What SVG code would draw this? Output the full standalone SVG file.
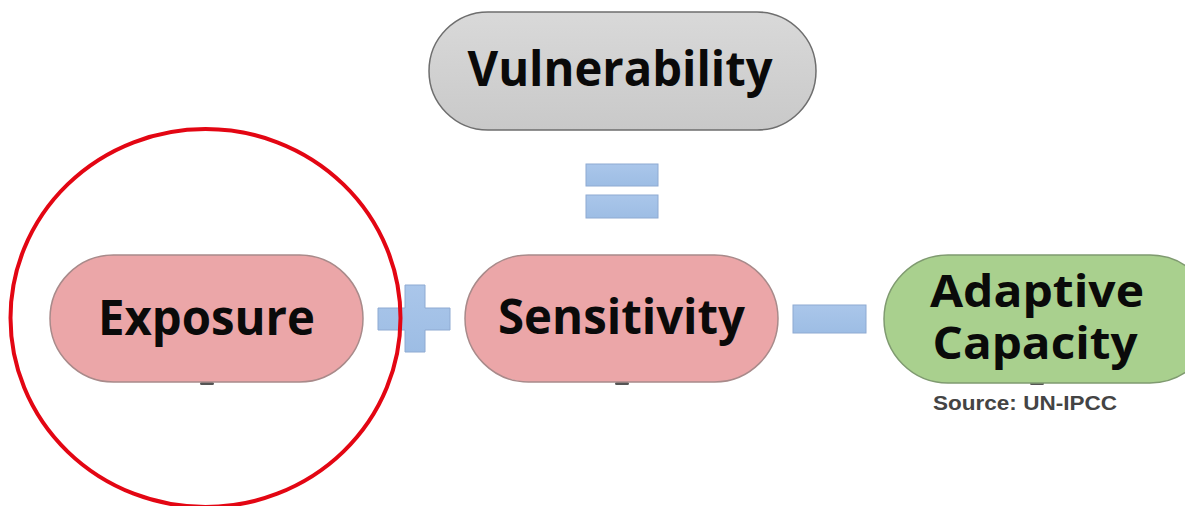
<svg xmlns="http://www.w3.org/2000/svg" width="1185" height="506" viewBox="0 0 1185 506">
<defs>
<linearGradient id="gBlue" x1="0" y1="0" x2="0" y2="1">
<stop offset="0" stop-color="#aac6ea"/><stop offset="1" stop-color="#9dbde4"/>
</linearGradient>
<linearGradient id="gGray" x1="0" y1="0" x2="0" y2="1">
<stop offset="0" stop-color="#d9d9d9"/><stop offset="1" stop-color="#c9c9c9"/>
</linearGradient>
<style>
.lbl{font-family:"Open Sans","Noto Sans","DejaVu Sans",sans-serif;font-weight:700;font-size:48px;fill:#0a0a0a;text-anchor:middle}
.lbl2{font-size:44px}
.pink{fill:#eba6a8;stroke:#a88a8a;stroke-width:1.5}
.gray{fill:url(#gGray);stroke:#6e6e6e;stroke-width:1.5}
.green{fill:#a9d08e;stroke:#7f9a70;stroke-width:1.5}
.op{fill:url(#gBlue);stroke:#8eaad2;stroke-width:1}
.stub{fill:#555}
.src{font-family:"Liberation Sans",Arial,sans-serif;font-weight:700;font-size:20px;fill:#444}
</style>
</defs>
<rect width="1185" height="506" fill="#ffffff"/>
<g id="connectors">
<rect class="stub" x="200" y="382" width="14" height="3" rx="1.5"/>
<rect class="stub" x="615" y="382" width="14" height="3" rx="1.5"/>
<rect class="stub" x="1030" y="382" width="14" height="3" rx="1.5"/>
</g>
<g id="vulnerability">
<rect class="gray" x="429" y="12" width="387" height="118" rx="59"/>
<text class="lbl" x="620" y="86" textLength="305" lengthAdjust="spacingAndGlyphs">Vulnerability</text>
</g>
<g id="equals">
<rect class="op" x="586" y="164" width="72" height="22"/>
<rect class="op" x="586" y="195" width="72" height="23"/>
</g>
<g id="exposure">
<rect class="pink" x="50" y="255" width="313" height="127" rx="63.5"/>
<text class="lbl" x="206.5" y="335" textLength="217" lengthAdjust="spacingAndGlyphs">Exposure</text>
</g>
<g id="plus">
<path class="op" d="M405 285 H425 V308 H450 V330 H425 V352 H405 V330 H378 V308 H405 Z"/>
</g>
<g id="sensitivity">
<rect class="pink" x="465" y="255" width="313" height="127" rx="63.5"/>
<text class="lbl" x="621.5" y="334" textLength="247" lengthAdjust="spacingAndGlyphs">Sensitivity</text>
</g>
<g id="minus">
<rect class="op" x="793" y="305" width="73" height="28"/>
</g>
<g id="adaptive-capacity">
<rect class="green" x="884" y="255" width="330" height="128" rx="64"/>
<text class="lbl lbl2" x="1037" y="307" textLength="214" lengthAdjust="spacingAndGlyphs">Adaptive</text>
<text class="lbl lbl2" x="1035" y="359" textLength="205" lengthAdjust="spacingAndGlyphs">Capacity</text>
</g>
<g id="source">
<text class="src" x="933" y="410" textLength="184" lengthAdjust="spacingAndGlyphs">Source: UN-IPCC</text>
</g>
<g id="highlight">
<ellipse cx="205.5" cy="318" rx="195" ry="189" fill="none" stroke="#e30613" stroke-width="4"/>
</g>
</svg>
